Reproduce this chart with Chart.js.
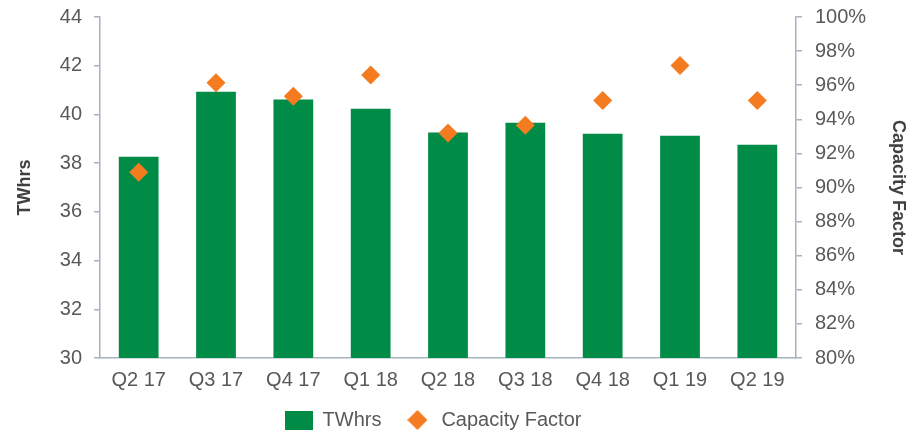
<!DOCTYPE html>
<html>
<head>
<meta charset="utf-8">
<script src="https://cdn.jsdelivr.net/npm/chart.js@4"></script>
<style>
  html, body { margin: 0; padding: 0; background: #fff; }
  #wrap { width: 920px; height: 433px; }
</style>
</head>
<body>
<div id="wrap"><canvas id="chart" width="920" height="433"></canvas></div>
<script>
const quarters = ['Q2 17', 'Q3 17', 'Q4 17', 'Q1 18', 'Q2 18', 'Q3 18', 'Q4 18', 'Q1 19', 'Q2 19'];
const twhrs = [38.3, 40.97, 40.65, 40.27, 39.3, 39.7, 39.25, 39.17, 38.8];
const capacityFactor = [90.9, 96.15, 95.35, 96.6, 93.2, 93.65, 95.1, 97.15, 95.1];

const green = '#008c46';
const orange = '#f47b20';
const axisColor = '#a6b2bc';
const textColor = '#595959';
const fontFamily = '"Liberation Sans", Arial, sans-serif';

function makeIcon(w, h, draw) {
    const c = document.createElement('canvas');
    c.width = w;
    c.height = h;
    draw(c.getContext('2d'));
    return c;
}

const barIcon = makeIcon(28, 19, ctx => {
    ctx.fillStyle = green;
    ctx.fillRect(0, 0, 28, 19);
});
const diamondIcon = makeIcon(20, 20, ctx => {
    ctx.fillStyle = orange;
    ctx.beginPath();
    ctx.moveTo(10, 0);
    ctx.lineTo(20, 10);
    ctx.lineTo(10, 20);
    ctx.lineTo(0, 10);
    ctx.closePath();
    ctx.fill();
});

// the legend in the reference sits a bit left of the canvas centre
const legendShift = {
    id: 'legendShift',
    afterLayout(chart) {
        const lg = chart.legend;
        lg.left -= 27;
        lg.right -= 27;
        lg.top -= 3;
        lg.bottom -= 3;
    }
};

function fixWidth(w) {
    return scale => {
        scale.width = w;
        scale.paddingTop = 0;
        scale.paddingBottom = 0;
    };
}

const ctx = document.getElementById('chart').getContext('2d');

new Chart(ctx, {
    data: {
        labels: quarters,
        datasets: [
            {
                type: 'bar',
                label: 'TWhrs',
                data: twhrs,
                backgroundColor: green,
                borderColor: 'rgba(255,255,255,0.35)',
                borderWidth: 1,
                barPercentage: 0.54,
                categoryPercentage: 1,
                yAxisID: 'y',
                order: 2
            },
            {
                type: 'line',
                label: 'Capacity Factor',
                data: capacityFactor,
                showLine: false,
                pointStyle: 'rectRot',
                pointRadius: 9.5,
                pointHoverRadius: 9.5,
                pointBorderWidth: 0,
                backgroundColor: orange,
                borderColor: orange,
                yAxisID: 'y1',
                order: 1
            }
        ]
    },
    options: {
        responsive: false,
        animation: false,
        layout: {
            padding: { top: 17, left: 0, right: 0, bottom: -10 }
        },
        scales: {
            x: {
                grid: { display: false, drawTicks: false },
                border: { display: true, color: axisColor, width: 1.5 },
                ticks: {
                    color: textColor,
                    font: { family: fontFamily, size: 20 },
                    padding: 10
                },
                afterFit: scale => {
                    scale.height = 33;
                    scale.paddingLeft = 0;
                    scale.paddingRight = 0;
                }
            },
            y: {
                position: 'left',
                min: 30,
                max: 44,
                ticks: {
                    stepSize: 2,
                    color: textColor,
                    font: { family: fontFamily, size: 20 },
                    padding: 12
                },
                grid: {
                    drawOnChartArea: false,
                    drawTicks: true,
                    tickLength: 6,
                    color: axisColor,
                    lineWidth: 1.5
                },
                border: { display: true, color: axisColor, width: 1.5 },
                title: {
                    display: true,
                    text: 'TWhrs',
                    color: '#404040',
                    font: { family: fontFamily, size: 18, weight: 'bold' },
                    padding: { top: 14, bottom: 0 }
                },
                afterFit: fixWidth(100)
            },
            y1: {
                position: 'right',
                min: 80,
                max: 100,
                ticks: {
                    stepSize: 2,
                    color: textColor,
                    font: { family: fontFamily, size: 20 },
                    padding: 13,
                    callback: v => v + '%'
                },
                grid: {
                    drawOnChartArea: false,
                    drawTicks: true,
                    tickLength: 6,
                    color: axisColor,
                    lineWidth: 1.5
                },
                border: { display: true, color: axisColor, width: 1.5 },
                title: {
                    display: true,
                    text: 'Capacity Factor',
                    color: '#404040',
                    font: { family: fontFamily, size: 18, weight: 'bold' },
                    padding: { top: 11, bottom: 0 }
                },
                afterFit: fixWidth(124)
            }
        },
        plugins: {
            legend: {
                position: 'bottom',
                labels: {
                    usePointStyle: true,
                    pointStyleWidth: 28,
                    boxHeight: 19,
                    padding: 22,
                    color: textColor,
                    font: { family: fontFamily, size: 20 },
                    sort: (a, b) => a.datasetIndex - b.datasetIndex,
                    generateLabels: chart => {
                        const items = Chart.defaults.plugins.legend.labels.generateLabels(chart);
                        items.forEach(item => {
                            item.pointStyle = item.datasetIndex === 0 ? barIcon : diamondIcon;
                        });
                        return items;
                    }
                }
            },
            tooltip: { enabled: false }
        }
    },
    plugins: [legendShift]
});
</script>
</body>
</html>
